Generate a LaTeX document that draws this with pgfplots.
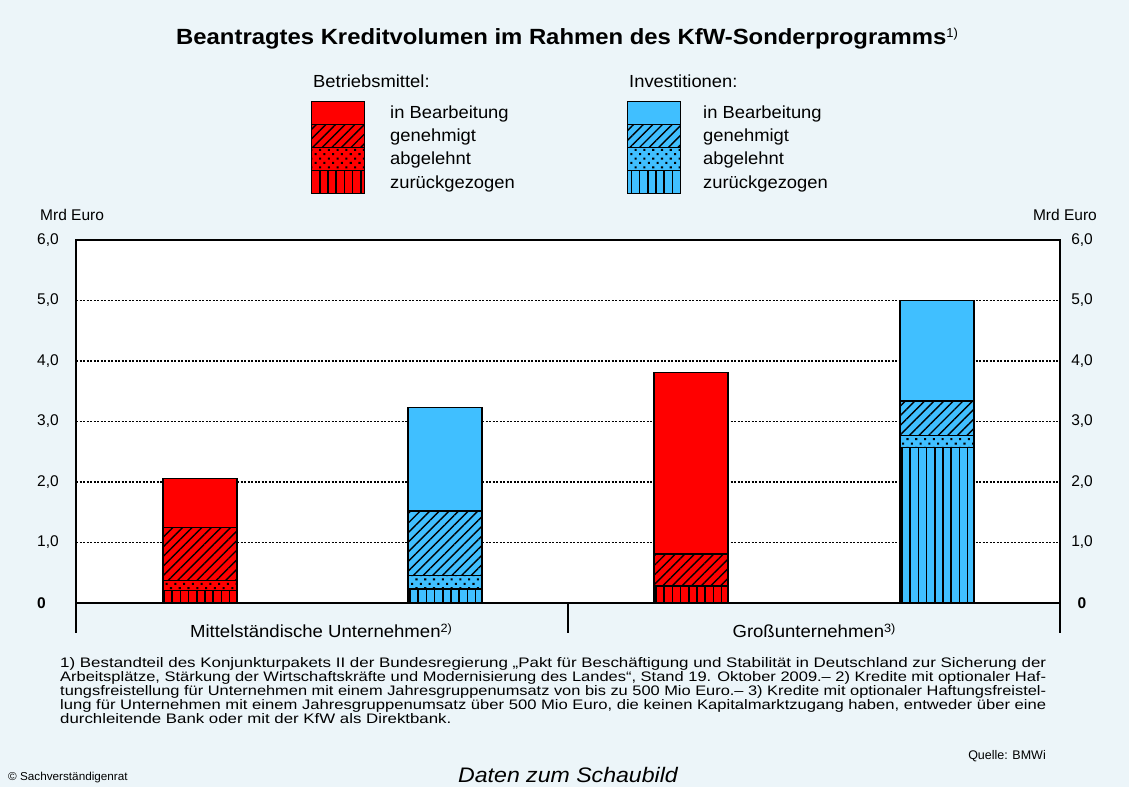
\documentclass[border=0pt]{standalone}
\usepackage{fontspec}
\setmainfont{Liberation Sans}
\usepackage{graphicx}
\usepackage{pgfplots}
\pgfplotsset{compat=1.18}
\usetikzlibrary{patterns.meta}
\definecolor{bg}{RGB}{236,245,249}
\definecolor{rd}{RGB}{255,0,0}
\definecolor{bl}{RGB}{64,191,255}
\tikzset{
 hatchA/.style={postaction={pattern={Lines[angle=45,distance=6.8pt,line width=1.4pt]},pattern color=black}},
 dotsA/.style={postaction={pattern={Dots[distance=6.2pt,angle=45,radius=1.45pt,yshift=1.5pt]},pattern color=black}},
 vertA/.style={postaction={pattern={Lines[angle=90,distance=8.2pt,line width=1.5pt]},pattern color=black}},
 seg/.style={draw=black,line width=1.2pt},
}
\newcommand{\fs}[1]{\fontsize{#1}{#1}\selectfont}
\newcommand{\fn}[1]{\resizebox{986pt}{\height}{\fs{13.8}#1}}
\begin{document}
\begin{tikzpicture}
\fill[bg] (0,0) rectangle (1129pt,787pt);
\useasboundingbox (0,0) rectangle (1129pt,787pt);
\begin{axis}[
 at={(76pt,184pt)}, anchor=south west,
 width=984pt, height=363pt, scale only axis,
 xmin=0, xmax=984, ymin=0, ymax=6,
 ybar stacked, bar width=74,
 axis background/.style={fill=white},
 axis line style={line width=1.5pt, black},
 xtick=\empty,
 ytick={0,1,2,3,4,5,6},
 yticklabels={{\textbf{0}},{1,0},{2,0},{3,0},{4,0},{5,0},{6,0}},
 yticklabel style={anchor=west, inner sep=0pt, xshift=-39pt, font=\fs{15.5}},
 major tick length=0pt,
 ymajorgrids, grid style={black, line width=1.5pt, dash pattern=on 2pt off 1.5pt},
]
\addplot[fill=rd, seg, vertA] coordinates {(124,0.20) (369,0) (615,0.28) (861,0)};
\addplot[fill=rd, seg, dotsA] coordinates {(124,0.17) (369,0) (615,0) (861,0)};
\addplot[fill=rd, seg, hatchA] coordinates {(124,0.88) (369,0) (615,0.53) (861,0)};
\addplot[fill=rd, seg] coordinates {(124,0.81) (369,0) (615,3.00) (861,0)};
\addplot[fill=bl, seg, vertA] coordinates {(124,0) (369,0.23) (615,0) (861,2.57)};
\addplot[fill=bl, seg, dotsA] coordinates {(124,0) (369,0.22) (615,0) (861,0.20)};
\addplot[fill=bl, seg, hatchA] coordinates {(124,0) (369,1.07) (615,0) (861,0.57)};
\addplot[fill=bl, seg] coordinates {(124,0) (369,1.71) (615,0) (861,1.66)};
\end{axis}
\begin{axis}[
 at={(76pt,184pt)}, anchor=south west,
 width=984pt, height=363pt, scale only axis,
 xmin=0, xmax=984, ymin=0, ymax=6,
 axis y line*=right, axis x line=none,
 axis line style={line width=1.5pt, black},
 ytick={0,1,2,3,4,5,6},
 yticklabels={{\textbf{0}},{1,0},{2,0},{3,0},{4,0},{5,0},{6,0}},
 yticklabel style={anchor=center, inner sep=0pt, xshift=22pt, font=\fs{15.5}},
 major tick length=0pt,
]
\end{axis}
\draw[line width=2.2pt] (76pt,184pt) -- (1060pt,184pt);
\draw[line width=1.3pt] (76pt,184pt) -- (76pt,154pt);
\draw[line width=1.3pt] (568pt,184pt) -- (568pt,154pt);
\draw[line width=1.3pt] (1060pt,184pt) -- (1060pt,154pt);
% title
\node[anchor=base west, inner sep=0pt] at (176pt,742pt) {\scalebox{1.085}[1]{\fs{22}\textbf{Beantragtes Kreditvolumen im Rahmen des KfW-Sonderprogramms}}\raisebox{7pt}{\fs{13}1)}};
% legend
\node[anchor=base west, inner sep=0pt] at (313pt,699pt) {\scalebox{1.05}[1]{\fs{17.5}Betriebsmittel:}};
\node[anchor=base west, inner sep=0pt] at (629pt,699pt) {\scalebox{1.05}[1]{\fs{17.5}Investitionen:}};
\filldraw[fill=rd, seg] (311.5pt,662.5pt) rectangle (364.5pt,685.5pt);
\filldraw[fill=rd, seg, hatchA] (311.5pt,639.5pt) rectangle (364.5pt,662.5pt);
\filldraw[fill=rd, seg, dotsA] (311.5pt,616.5pt) rectangle (364.5pt,639.5pt);
\filldraw[fill=rd, seg, vertA] (311.5pt,593.5pt) rectangle (364.5pt,616.5pt);
\filldraw[fill=bl, seg] (627.5pt,662.5pt) rectangle (680.5pt,685.5pt);
\filldraw[fill=bl, seg, hatchA] (627.5pt,639.5pt) rectangle (680.5pt,662.5pt);
\filldraw[fill=bl, seg, dotsA] (627.5pt,616.5pt) rectangle (680.5pt,639.5pt);
\filldraw[fill=bl, seg, vertA] (627.5pt,593.5pt) rectangle (680.5pt,616.5pt);
\foreach \xx in {390pt,703pt}{
 \node[anchor=base west, inner sep=0pt] at (\xx,668pt) {\scalebox{1.05}[1]{\fs{17.5}in Bearbeitung}};
 \node[anchor=base west, inner sep=0pt] at (\xx,645pt) {\scalebox{1.05}[1]{\fs{17.5}genehmigt}};
 \node[anchor=base west, inner sep=0pt] at (\xx,622pt) {\scalebox{1.05}[1]{\fs{17.5}abgelehnt}};
 \node[anchor=base west, inner sep=0pt] at (\xx,598pt) {\scalebox{1.05}[1]{\fs{17.5}zurückgezogen}};
}
% unit labels
\node[anchor=base west, inner sep=0pt] at (40pt,566.5pt) {\fs{15.5}Mrd Euro};
\node[anchor=base east, inner sep=0pt] at (1097pt,566.5pt) {\fs{15.5}Mrd Euro};
% categories
\node[anchor=base, inner sep=0pt] at (321pt,149pt) {\scalebox{1.06}[1]{\fs{17.5}Mittelständische Unternehmen\raisebox{5.5pt}{\fs{12}2)}}};
\node[anchor=base, inner sep=0pt] at (814pt,149pt) {\scalebox{1.06}[1]{\fs{17.5}Großunternehmen\raisebox{5.5pt}{\fs{12}3)}}};
% footnotes
\node[anchor=base west, inner sep=0pt] at (60pt,119.5pt) {\fn{1) Bestandteil des Konjunkturpakets II der Bundesregierung „Pakt für Beschäftigung und Stabilität in Deutschland zur Sicherung der}};
\node[anchor=base west, inner sep=0pt] at (60pt,105.5pt) {\fn{Arbeitsplätze, Stärkung der Wirtschaftskräfte und Modernisierung des Landes“, Stand 19. Oktober 2009.– 2) Kredite mit optionaler Haf-}};
\node[anchor=base west, inner sep=0pt] at (60pt,91.5pt) {\fn{tungsfreistellung für Unternehmen mit einem Jahresgruppenumsatz von bis zu 500 Mio Euro.– 3) Kredite mit optionaler Haftungsfreistel-}};
\node[anchor=base west, inner sep=0pt] at (60pt,77.5pt) {\fn{lung für Unternehmen mit einem Jahresgruppenumsatz über 500 Mio Euro, die keinen Kapitalmarktzugang haben, entweder über eine}};
\node[anchor=base west, inner sep=0pt] at (60pt,63.5pt) {\scalebox{1.22}[1]{\fs{13.8}durchleitende Bank oder mit der KfW als Direktbank.}};
\node[anchor=base east, inner sep=0pt] at (1046pt,27.5pt) {\fs{12.5}Quelle: BMWi};
\node[anchor=base west, inner sep=0pt] at (8pt,7pt) {\scalebox{1.02}[1]{\fs{11.5}© Sachverständigenrat}};
\node[anchor=base, inner sep=0pt] at (568pt,4.5pt) {\scalebox{1.1}[1]{\fs{21}\itshape Daten zum Schaubild}};
\end{tikzpicture}
\end{document}
